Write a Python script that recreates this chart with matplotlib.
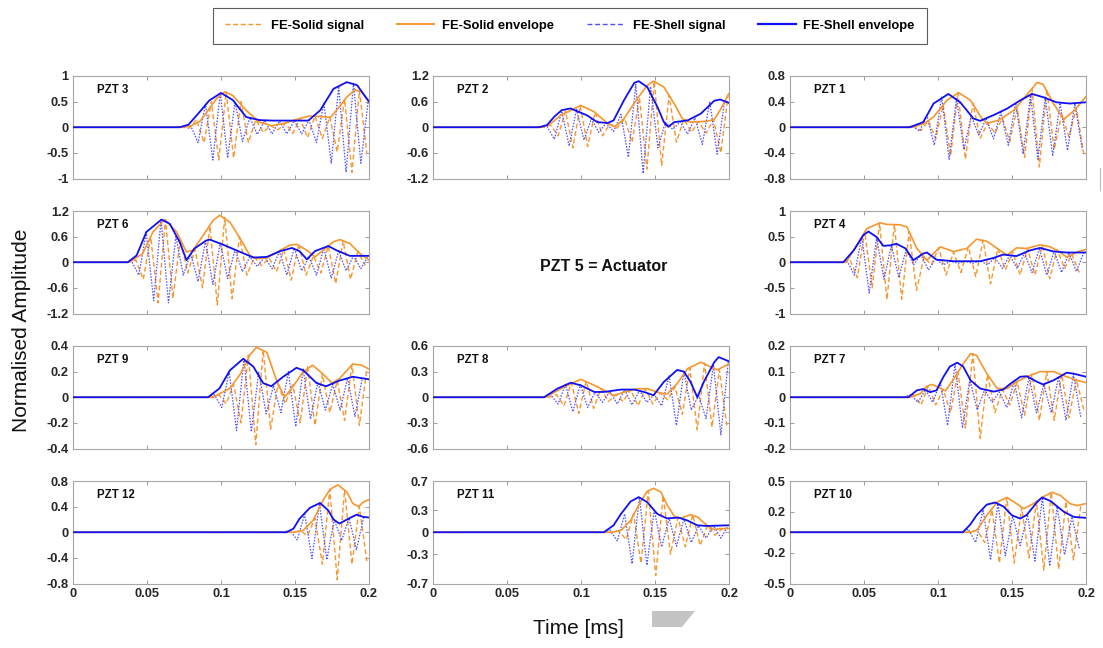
import numpy as np
import matplotlib
matplotlib.use("Agg")
import matplotlib.pyplot as plt
from matplotlib.lines import Line2D
from matplotlib.patches import Polygon

plt.rcParams['font.family'] = ['Liberation Sans', 'DejaVu Sans']

# ---------------- data ----------------
x_ticks = [0, 0.05, 0.1, 0.15, 0.2]
x_ticklabels = ['0', '0.05', '0.1', '0.15', '0.2']
half_period = 0.005  # spacing of successive signal extrema [ms]

# envelopes: (time [ms], amplitude) ; signals: first extremum time + successive extrema
PZT3 = dict(
    yticks=[-1, -0.5, 0, 0.5, 1],
    shell_env=[(0, 0), (0.072, 0), (0.078, 0.05), (0.085, 0.28), (0.092, 0.52), (0.1, 0.67), (0.108, 0.53),
               (0.117, 0.2), (0.126, 0.14), (0.135, 0.13), (0.159, 0.13), (0.167, 0.33), (0.176, 0.75),
               (0.185, 0.88), (0.192, 0.82), (0.2, 0.5)],
    solid_env=[(0, 0), (0.074, 0), (0.08, 0.03), (0.086, 0.12), (0.091, 0.32), (0.097, 0.56), (0.1026, 0.69),
               (0.108, 0.62), (0.117, 0.33), (0.126, 0.1), (0.134, 0.03), (0.142, 0.07), (0.153, 0.17),
               (0.16, 0.22), (0.167, 0.21), (0.174, 0.19), (0.178, 0.33), (0.185, 0.59), (0.1905, 0.73),
               (0.195, 0.69), (0.2, 0.49)],
    shell_t0=0.0795,
    shell_sig=[0.03, -0.3, 0.45, -0.64, 0.67, -0.6, 0.5, -0.28, 0.19, -0.14, 0.13, -0.13, 0.12, -0.13, 0.13,
               -0.13, 0.14, -0.3, 0.48, -0.7, 0.8, -0.88, 0.86, -0.7, 0.52],
    solid_t0=0.0785,
    solid_sig=[-0.02, 0.15, -0.3, 0.5, -0.64, 0.69, -0.6, 0.5, -0.3, 0.15, -0.1, 0.03, -0.05, 0.08, -0.12,
               0.17, -0.2, 0.22, -0.22, 0.2, -0.48, 0.55, -0.88, 0.72, -0.5],
)
PZT2 = dict(
    yticks=[-1.2, -0.6, 0, 0.6, 1.2],
    shell_env=[(0, 0), (0.0716, 0), (0.077, 0.05), (0.082, 0.25), (0.087, 0.4), (0.093, 0.44), (0.104, 0.28),
               (0.111, 0.12), (0.118, 0.1), (0.122, 0.16), (0.129, 0.63), (0.136, 1.04), (0.139, 1.08),
               (0.1448, 0.94), (0.1516, 0.48), (0.156, 0.12), (0.159, 0.01), (0.163, 0.12), (0.172, 0.16),
               (0.181, 0.32), (0.19, 0.62), (0.194, 0.65), (0.2, 0.57)],
    solid_env=[(0, 0), (0.074, 0), (0.08, 0.1), (0.0863, 0.28), (0.0998, 0.51), (0.109, 0.36), (0.118, 0.09),
               (0.123, 0.01), (0.129, 0.2), (0.138, 0.67), (0.1448, 0.98), (0.149, 1.08), (0.156, 0.94),
               (0.163, 0.55), (0.1685, 0.2), (0.174, 0.12), (0.185, 0.14), (0.19, 0.18), (0.194, 0.4),
               (0.2, 0.79)],
    shell_t0=0.077,
    shell_sig=[0.02, -0.28, 0.38, -0.44, 0.42, -0.3, 0.2, -0.12, 0.1, -0.1, 0.3, -0.7, 1.0, -1.08, 0.95, -0.48,
               0.12, -0.05, 0.13, -0.16, 0.22, -0.4, 0.6, -0.63, 0.6],
    solid_t0=0.0795,
    solid_sig=[0.05, -0.2, 0.38, -0.48, 0.5, -0.45, 0.35, -0.2, 0.08, -0.02, 0.2, -0.35, 0.7, -0.98, 1.08,
               -0.9, 0.75, -0.35, 0.2, -0.12, 0.13, -0.14, 0.18, -0.6, 0.78],
)
PZT1 = dict(
    yticks=[-0.8, -0.4, 0, 0.4, 0.8],
    shell_env=[(0, 0), (0.081, 0), (0.09, 0.08), (0.097, 0.37), (0.107, 0.52), (0.115, 0.39), (0.124, 0.135),
               (0.1285, 0.1), (0.1376, 0.19), (0.1466, 0.29), (0.1556, 0.42), (0.1635, 0.52), (0.171, 0.47),
               (0.18, 0.39), (0.189, 0.37), (0.2, 0.39)],
    solid_env=[(0, 0), (0.082, 0), (0.09, 0.05), (0.097, 0.16), (0.106, 0.42), (0.114, 0.54), (0.122, 0.42),
               (0.1297, 0.135), (0.133, 0.06), (0.141, 0.11), (0.151, 0.26), (0.158, 0.45), (0.167, 0.7),
               (0.171, 0.67), (0.178, 0.37), (0.185, 0.125), (0.192, 0.26), (0.2, 0.48)],
    shell_t0=0.0825,
    shell_sig=[0.02, -0.06, 0.18, -0.28, 0.48, -0.5, 0.45, -0.35, 0.18, -0.12, 0.13, -0.18, 0.23, -0.28, 0.38,
               -0.42, 0.5, -0.5, 0.47, -0.45, 0.38, -0.36, 0.37, -0.35],
    solid_t0=0.0835,
    solid_sig=[0.02, -0.05, 0.1, -0.18, 0.35, -0.45, 0.54, -0.5, 0.38, -0.17, 0.06, -0.09, 0.14, -0.22, 0.3,
               -0.47, 0.6, -0.62, 0.6, -0.35, 0.2, -0.15, 0.3, -0.42],
)
PZT6 = dict(
    yticks=[-1.2, -0.6, 0, 0.6, 1.2],
    shell_env=[(0, 0), (0.037, 0), (0.043, 0.16), (0.0496, 0.71), (0.0598, 1.0), (0.0654, 0.9), (0.072, 0.48),
               (0.0767, 0.05), (0.082, 0.32), (0.09, 0.51), (0.0925, 0.53), (0.1015, 0.41), (0.113, 0.24),
               (0.122, 0.11), (0.131, 0.125), (0.14, 0.26), (0.148, 0.335), (0.153, 0.26), (0.158, 0.07),
               (0.1635, 0.26), (0.1725, 0.38), (0.178, 0.28), (0.187, 0.15), (0.2, 0.15)],
    solid_env=[(0, 0), (0.038, 0), (0.047, 0.2), (0.054, 0.71), (0.062, 1.0), (0.07, 0.71), (0.0767, 0.24),
               (0.081, 0.28), (0.088, 0.63), (0.0947, 0.98), (0.099, 1.1), (0.106, 0.94), (0.113, 0.55),
               (0.1195, 0.16), (0.124, 0.085), (0.131, 0.1), (0.14, 0.28), (0.1466, 0.4), (0.151, 0.42),
               (0.158, 0.28), (0.1635, 0.125), (0.169, 0.28), (0.176, 0.48), (0.1804, 0.53), (0.187, 0.44),
               (0.194, 0.2), (0.2, 0.05)],
    shell_t0=0.0395,
    shell_sig=[0.03, -0.3, 0.7, -0.9, 1.0, -0.95, 0.6, -0.3, 0.2, -0.45, 0.5, -0.52, 0.45, -0.38, 0.3, -0.22,
               0.13, -0.1, 0.12, -0.15, 0.25, -0.3, 0.33, -0.2, 0.12, -0.3, 0.33, -0.37, 0.27, -0.2, 0.15,
               -0.15, 0.15],
    solid_t0=0.0425,
    solid_sig=[0.05, -0.4, 0.6, -0.95, 1.0, -0.85, 0.55, -0.25, 0.3, -0.6, 0.85, -1.0, 1.05, -0.85, 0.6, -0.3,
               0.12, -0.08, 0.1, -0.22, 0.3, -0.42, 0.42, -0.3, 0.15, -0.25, 0.38, -0.5, 0.5, -0.4, 0.25, -0.08],
)
PZT4 = dict(
    yticks=[-1, -0.5, 0, 0.5, 1],
    shell_env=[(0, 0), (0.036, 0), (0.043, 0.23), (0.0496, 0.53), (0.053, 0.6), (0.0586, 0.49), (0.063, 0.32),
               (0.0677, 0.33), (0.072, 0.36), (0.078, 0.27), (0.0834, 0.04), (0.09, 0.17), (0.0925, 0.19),
               (0.099, 0.05), (0.1105, 0.02), (0.1285, 0.02), (0.1376, 0.085), (0.144, 0.15), (0.153, 0.12),
               (0.162, 0.23), (0.169, 0.28), (0.178, 0.21), (0.187, 0.19), (0.2, 0.19)],
    solid_env=[(0, 0), (0.038, 0), (0.045, 0.33), (0.052, 0.66), (0.061, 0.77), (0.065, 0.74), (0.0744, 0.73),
               (0.079, 0.69), (0.0857, 0.27), (0.0925, 0.04), (0.1015, 0.3), (0.1105, 0.21), (0.1195, 0.27),
               (0.126, 0.45), (0.133, 0.41), (0.14, 0.27), (0.1466, 0.14), (0.153, 0.28), (0.16, 0.27),
               (0.169, 0.34), (0.176, 0.3), (0.1827, 0.19), (0.187, 0.1), (0.194, 0.2), (0.2, 0.25)],
    shell_t0=0.0385,
    shell_sig=[0.03, -0.25, 0.5, -0.6, 0.48, -0.33, 0.33, -0.3, 0.25, -0.05, 0.15, -0.15, 0.07, -0.05, 0.02,
               -0.02, 0.02, -0.02, 0.03, -0.05, 0.09, -0.12, 0.14, -0.12, 0.18, -0.2, 0.27, -0.25, 0.22, -0.2,
               0.19, -0.18, 0.19],
    solid_t0=0.0405,
    solid_sig=[0.05, -0.3, 0.6, -0.5, 0.77, -0.73, 0.74, -0.72, 0.6, -0.55, 0.1, -0.05, 0.28, -0.25, 0.2, -0.2,
               0.3, -0.28, 0.43, -0.42, 0.27, -0.15, 0.2, -0.25, 0.27, -0.25, 0.33, -0.32, 0.25, -0.12, 0.15,
               -0.2],
)
PZT9 = dict(
    yticks=[-0.4, -0.2, 0, 0.2, 0.4],
    shell_env=[(0, 0), (0.0913, 0), (0.099, 0.07), (0.106, 0.21), (0.115, 0.3), (0.1218, 0.24), (0.1285, 0.11),
               (0.134, 0.086), (0.142, 0.16), (0.151, 0.23), (0.1556, 0.21), (0.1646, 0.11), (0.171, 0.086),
               (0.18, 0.13), (0.189, 0.16), (0.2, 0.14)],
    solid_env=[(0, 0), (0.0947, 0), (0.106, 0.07), (0.113, 0.18), (0.1195, 0.33), (0.124, 0.39), (0.131, 0.35),
               (0.1376, 0.13), (0.143, 0.0), (0.149, 0.09), (0.1556, 0.2), (0.162, 0.25), (0.169, 0.18),
               (0.175, 0.11), (0.18, 0.145), (0.189, 0.26), (0.195, 0.25), (0.2, 0.22)],
    shell_t0=0.0955,
    shell_sig=[0.02, -0.08, 0.2, -0.26, 0.3, -0.27, 0.2, -0.13, 0.09, -0.12, 0.2, -0.23, 0.22, -0.17, 0.12,
               -0.1, 0.1, -0.1, 0.15, -0.15, 0.15],
    solid_t0=0.0985,
    solid_sig=[0.02, -0.05, 0.1, -0.2, 0.33, -0.37, 0.37, -0.25, 0.1, -0.05, 0.1, -0.2, 0.24, -0.22, 0.18,
               -0.12, 0.13, -0.18, 0.25, -0.22, 0.22],
)
PZT8 = dict(
    yticks=[-0.6, -0.3, 0, 0.3, 0.6],
    shell_env=[(0, 0), (0.075, 0), (0.084, 0.1), (0.093, 0.17), (0.0998, 0.14), (0.109, 0.062), (0.1155, 0.062),
               (0.127, 0.09), (0.136, 0.09), (0.1425, 0.062), (0.149, 0.023), (0.156, 0.18), (0.165, 0.32),
               (0.1696, 0.3), (0.174, 0.18), (0.1786, 0.0), (0.183, 0.18), (0.19, 0.41), (0.193, 0.47),
               (0.2, 0.42)],
    solid_env=[(0, 0), (0.076, 0), (0.0885, 0.12), (0.0998, 0.21), (0.109, 0.14), (0.118, 0.06), (0.122, 0.02),
               (0.129, 0.06), (0.138, 0.1), (0.145, 0.1), (0.1516, 0.06), (0.158, 0.035), (0.165, 0.16),
               (0.172, 0.335), (0.181, 0.41), (0.1876, 0.355), (0.192, 0.32), (0.2, 0.39)],
    shell_t0=0.0795,
    shell_sig=[0.03, -0.08, 0.15, -0.17, 0.15, -0.12, 0.06, -0.06, 0.07, -0.08, 0.09, -0.09, 0.08, -0.06, 0.03,
               -0.1, 0.25, -0.33, 0.3, -0.15, 0.02, -0.25, 0.38, -0.44, 0.42],
    solid_t0=0.0835,
    solid_sig=[0.03, -0.1, 0.17, -0.19, 0.19, -0.13, 0.1, -0.05, 0.03, -0.05, 0.09, -0.1, 0.1, -0.08, 0.05,
               -0.03, 0.12, -0.2, 0.34, -0.38, 0.4, -0.35, 0.32, -0.33],
)
PZT7 = dict(
    yticks=[-0.2, -0.1, 0, 0.1, 0.2],
    shell_env=[(0, 0), (0.08, 0), (0.0857, 0.027), (0.09, 0.032), (0.0947, 0.02), (0.099, 0.027),
               (0.1037, 0.08), (0.108, 0.12), (0.113, 0.135), (0.117, 0.12), (0.122, 0.066), (0.1285, 0.034),
               (0.1376, 0.022), (0.144, 0.03), (0.149, 0.053), (0.1556, 0.08), (0.16, 0.082), (0.167, 0.06),
               (0.171, 0.05), (0.178, 0.066), (0.187, 0.096), (0.1917, 0.092), (0.2, 0.08)],
    solid_env=[(0, 0), (0.081, 0), (0.088, 0.014), (0.0925, 0.043), (0.096, 0.05), (0.1, 0.04), (0.105, 0.025),
               (0.11, 0.066), (0.117, 0.13), (0.122, 0.17), (0.126, 0.164), (0.133, 0.092), (0.14, 0.034),
               (0.1466, 0.034), (0.153, 0.06), (0.16, 0.08), (0.169, 0.1), (0.178, 0.1), (0.187, 0.08),
               (0.194, 0.066), (0.2, 0.057)],
    shell_t0=0.0815,
    shell_sig=[0.01, -0.02, 0.03, -0.02, 0.06, -0.11, 0.13, -0.12, 0.07, -0.05, 0.03, -0.02, 0.02, -0.04, 0.06,
               -0.08, 0.08, -0.06, 0.05, -0.06, 0.08, -0.09, 0.09, -0.08],
    solid_t0=0.0835,
    solid_sig=[0.01, -0.03, 0.045, -0.03, 0.03, -0.06, 0.1, -0.12, 0.17, -0.16, 0.09, -0.06, 0.03, -0.03, 0.06,
               -0.07, 0.09, -0.09, 0.1, -0.09, 0.09, -0.08, 0.07, -0.05],
)
PZT12 = dict(
    yticks=[-0.8, -0.4, 0, 0.4, 0.8],
    shell_env=[(0, 0), (0.1443, 0), (0.149, 0.057), (0.153, 0.21), (0.16, 0.38), (0.1669, 0.457),
               (0.1725, 0.34), (0.176, 0.2), (0.18, 0.135), (0.186, 0.21), (0.1917, 0.275), (0.196, 0.24),
               (0.2, 0.23)],
    solid_env=[(0, 0), (0.149, 0), (0.1556, 0.03), (0.1624, 0.19), (0.169, 0.5), (0.1737, 0.67), (0.179, 0.74),
               (0.185, 0.63), (0.189, 0.45), (0.193, 0.4), (0.196, 0.47), (0.2, 0.51)],
    shell_t0=0.1465,
    shell_sig=[0.03, -0.12, 0.28, -0.41, 0.45, -0.43, 0.2, -0.13, 0.22, -0.27, 0.24],
    solid_t0=0.1535,
    solid_sig=[0.02, -0.05, 0.22, -0.5, 0.67, -0.74, 0.66, -0.5, 0.4, -0.45],
)
PZT11 = dict(
    yticks=[-0.7, -0.3, 0, 0.3, 0.7],
    shell_env=[(0, 0), (0.1155, 0), (0.122, 0.095), (0.127, 0.25), (0.1335, 0.42), (0.139, 0.48),
               (0.1448, 0.41), (0.1516, 0.25), (0.158, 0.19), (0.166, 0.2), (0.172, 0.16), (0.1786, 0.095),
               (0.185, 0.086), (0.2, 0.095)],
    solid_env=[(0, 0), (0.121, 0), (0.127, 0.027), (0.1335, 0.16), (0.14, 0.41), (0.1448, 0.56), (0.149, 0.6),
               (0.154, 0.55), (0.158, 0.38), (0.163, 0.22), (0.167, 0.19), (0.174, 0.24), (0.1786, 0.21),
               (0.185, 0.095), (0.19, 0.036), (0.194, 0.05), (0.2, 0.05)],
    shell_t0=0.1195,
    shell_sig=[0.03, -0.12, 0.25, -0.43, 0.48, -0.45, 0.3, -0.2, 0.19, -0.19, 0.18, -0.14, 0.09, -0.08, 0.09,
               -0.08, 0.095],
    solid_t0=0.1255,
    solid_sig=[0.02, -0.1, 0.25, -0.42, 0.56, -0.59, 0.5, -0.3, 0.2, -0.2, 0.24, -0.18, 0.09, -0.04, 0.05],
)
PZT10 = dict(
    yticks=[-0.5, -0.2, 0, 0.2, 0.5],
    shell_env=[(0, 0), (0.1168, 0), (0.1218, 0.075), (0.1263, 0.17), (0.133, 0.27), (0.1387, 0.29),
               (0.1443, 0.25), (0.15, 0.165), (0.1556, 0.133), (0.16, 0.17), (0.167, 0.295), (0.1703, 0.34),
               (0.176, 0.305), (0.185, 0.2), (0.1917, 0.15), (0.2, 0.14)],
    solid_env=[(0, 0), (0.1218, 0), (0.1263, 0.02), (0.133, 0.165), (0.14, 0.295), (0.1466, 0.34),
               (0.153, 0.28), (0.158, 0.23), (0.1646, 0.28), (0.171, 0.345), (0.177, 0.39), (0.1827, 0.36),
               (0.189, 0.28), (0.194, 0.26), (0.2, 0.28)],
    shell_t0=0.1205,
    shell_sig=[0.03, -0.1, 0.22, -0.27, 0.28, -0.23, 0.16, -0.13, 0.17, -0.28, 0.34, -0.33, 0.25, -0.22, 0.15,
               -0.16],
    solid_t0=0.1265,
    solid_sig=[0.02, -0.1, 0.22, -0.3, 0.34, -0.3, 0.24, -0.25, 0.3, -0.37, 0.39, -0.36, 0.3, -0.27, 0.26],
)

panel_names = ['PZT 3', 'PZT 2', 'PZT 1', 'PZT 6', None, 'PZT 4',
               'PZT 9', 'PZT 8', 'PZT 7', 'PZT 12', 'PZT 11', 'PZT 10']
panel_data = [PZT3, PZT2, PZT1, PZT6, None, PZT4, PZT9, PZT8, PZT7, PZT12, PZT11, PZT10]

# ---------------- styling ----------------
W, H = 1103, 648
ORANGE = '#F7962F'
BLUE = '#1010F5'
BLUE_SIG = '#4D4DFF'
col_left = [73, 433, 790]
ax_w = 296
row_top = [76, 211, 346, 481]
ax_h = 102.5

fig = plt.figure(figsize=(W / 100, H / 100), dpi=100)
fig.patch.set_facecolor('white')


def signal_xy(t0, vals):
    t = [0.0, t0 - half_period] + [t0 + half_period * k for k in range(len(vals))]
    v = [0.0, 0.0] + list(vals)
    return t, v


for idx, (name, d) in enumerate(zip(panel_names, panel_data)):
    r, c = divmod(idx, 3)
    if d is None:
        fig.text(604 / W, 1 - 266 / H, 'PZT 5 = Actuator',
                 ha='center', va='center', fontsize=11.5, fontweight='bold', color='#111111')
        continue
    ax = fig.add_axes([col_left[c] / W, 1 - (row_top[r] + ax_h) / H, ax_w / W, ax_h / H])
    ts, vs = signal_xy(d['solid_t0'], d['solid_sig'])
    ax.plot(ts, vs, color=ORANGE, lw=1.0, ls=(0, (3.5, 2.0)), zorder=2)
    ts, vs = signal_xy(d['shell_t0'], d['shell_sig'])
    ax.plot(ts, vs, color=BLUE_SIG, lw=0.9, ls=(0, (1.2, 1.2)), zorder=3)
    et, ev = zip(*d['solid_env'])
    ax.plot(et, ev, color=ORANGE, lw=1.2, zorder=4)
    et, ev = zip(*d['shell_env'])
    ax.plot(et, ev, color=BLUE, lw=1.3, zorder=5)

    ax.set_xlim(0, 0.2)
    yt = d['yticks']
    ax.set_ylim(yt[0], yt[-1])
    ax.set_yticks(yt)
    ax.set_yticklabels(['{:g}'.format(v) for v in yt])
    ax.set_xticks(x_ticks)
    if r == 3:
        ax.set_xticklabels(x_ticklabels)
    else:
        ax.set_xticklabels([])
    ax.tick_params(direction='in', length=3, width=0.6, colors='#8c8c8c', labelcolor='#262626',
                   labelsize=9.3, pad=3, top=True, right=True)
    for lab in ax.get_xticklabels() + ax.get_yticklabels():
        lab.set_fontweight('bold')
    for sp in ax.spines.values():
        sp.set_color('#a6a6a6')
        sp.set_linewidth(0.8)
    ax.text(0.08, 0.865, name, transform=ax.transAxes, ha='left', va='center',
            fontsize=8.3, fontweight='bold', color='#111111')

# axis titles
fig.text(22 / W, 1 - 330 / H, 'Normalised Amplitude', rotation=90, ha='center', va='center',
         fontsize=15, color='#111111')
fig.text(578 / W, 1 - 628 / H, 'Time [ms]', ha='center', va='center', fontsize=15, color='#111111')

# legend
handles = [Line2D([], [], color=ORANGE, lw=1.0, ls=(0, (3.5, 2.0))),
           Line2D([], [], color=ORANGE, lw=1.4),
           Line2D([], [], color=BLUE_SIG, lw=1.0, ls=(0, (3.5, 2.0))),
           Line2D([], [], color=BLUE, lw=1.6)]
labels = ['FE-Solid signal', 'FE-Solid envelope', 'FE-Shell signal', 'FE-Shell envelope']
leg = fig.legend(handles, labels, loc='center', bbox_to_anchor=(570 / W, 1 - 26 / H), ncol=4,
                 frameon=True, fancybox=False, edgecolor='#333333',
                 prop={'weight': 'bold', 'size': 9.4}, handlelength=2.9, handletextpad=0.6,
                 columnspacing=2.5, borderpad=0.95)
leg.get_frame().set_linewidth(0.8)

# screenshot artefacts
fig.patches.append(Polygon([(652 / W, 1 - 611 / H), (695 / W, 1 - 611 / H), (682 / W, 1 - 627 / H),
                            (652 / W, 1 - 627 / H)], closed=True, transform=fig.transFigure,
                           facecolor='#c4c4c4', edgecolor='none'))
fig.add_artist(Line2D([1100 / W, 1100 / W], [1 - 168 / H, 1 - 190 / H], color='#bbbbbb', lw=0.8))

fig.savefig('out.png', dpi=100)
